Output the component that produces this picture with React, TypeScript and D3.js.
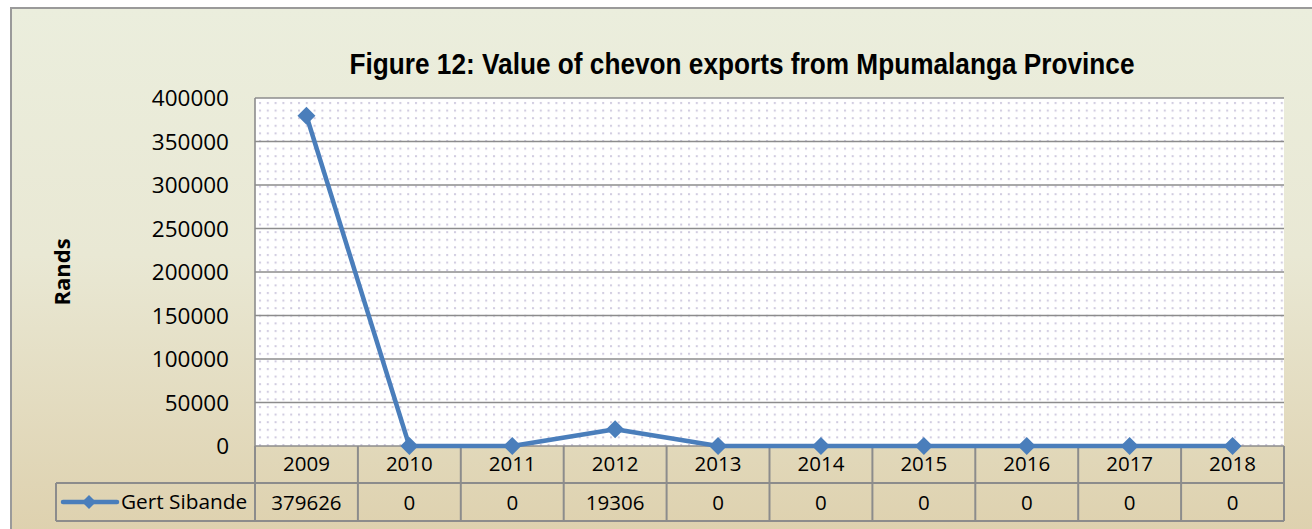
import React from "react";
import * as d3 from "d3";

const years = ["2009", "2010", "2011", "2012", "2013", "2014", "2015", "2016", "2017", "2018"];
const gertSibande = [379626, 0, 0, 19306, 0, 0, 0, 0, 0, 0];
const yTicks = [0, 50000, 100000, 150000, 200000, 250000, 300000, 350000, 400000];
const seriesName = "Gert Sibande";
const titleText = "Figure 12: Value of chevon exports from Mpumalanga Province";
const yAxisTitle = "Rands";

const W = 1312;
const H = 529;
const plotL = 255;
const plotR = 1284;
const plotT = 98;
const plotB = 446;
const row1B = 483;
const row2B = 521;
const legendL = 56;

const BLUE = "#4a7ebb";
const GRID = "#8c8c8c";
const BODY_FONT = "'Open Sans', 'Noto Sans', sans-serif";

export default function App() {
  const x = d3.scaleBand<string>().domain(years).range([plotL, plotR]).paddingInner(0).paddingOuter(0);
  const y = d3.scaleLinear().domain([0, 400000]).range([plotB, plotT]);
  const cx = (yr: string) => (x(yr) as number) + x.bandwidth() / 2;

  const line = d3
    .line<number>()
    .x((_, i) => cx(years[i]))
    .y((d) => y(d));

  const diamond = (px: number, py: number, r = 9) =>
    `M${px},${py - r}L${px + r},${py}L${px},${py + r}L${px - r},${py}Z`;

  const legendLineY = (row1B + row2B) / 2;

  return (
    <svg
      width={W}
      height={H}
      style={{ position: "absolute", left: 0, top: 0, display: "block" }}
      xmlns="http://www.w3.org/2000/svg"
    >
      <defs>
        <linearGradient id="bg" x1="0" y1="0" x2="0" y2="1">
          <stop offset="0%" stopColor="#ebeedd" />
          <stop offset="45%" stopColor="#e9e8d4" />
          <stop offset="100%" stopColor="#ddcfab" />
        </linearGradient>
        <pattern id="dots" x={plotL + 3} y={plotT + 3} width={7.8} height={7.6} patternUnits="userSpaceOnUse">
          <rect x={0} y={0} width={7.8} height={7.6} fill="#ffffff" />
          <rect x={1} y={1} width={2} height={2} fill="#d0cbe0" />
        </pattern>
      </defs>

      <rect x={0} y={0} width={W} height={H} fill="#ffffff" />
      <rect x={11} y={8} width={W + 20} height={H + 20} fill="url(#bg)" stroke="#9a9a9a" strokeWidth={2} />

      {/* Title */}
      <text
        x={742}
        y={74}
        textAnchor="middle"
        fontFamily="'Liberation Sans Narrow', 'Arial Narrow', 'Liberation Sans', sans-serif"
        fontWeight="bold"
        fontSize={29}
        textLength={785}
        lengthAdjust="spacingAndGlyphs"
        fill="#000"
      >
        {titleText}
      </text>

      {/* Plot area */}
      <rect x={plotL} y={plotT} width={plotR - plotL} height={plotB - plotT} fill="url(#dots)" />
      {yTicks.map((t) => (
        <line key={t} x1={plotL} x2={plotR} y1={y(t)} y2={y(t)} stroke={GRID} strokeWidth={1.6} />
      ))}
      <line x1={plotL} x2={plotL} y1={plotT} y2={plotB} stroke={GRID} strokeWidth={1.6} />

      {/* Y tick labels */}
      {yTicks.map((t) => (
        <text
          key={"l" + t}
          x={229}
          y={y(t)}
          dy="0.36em"
          textAnchor="end"
          fontFamily={BODY_FONT}
          fontSize={22.5}
          fill="#000"
        >
          {t}
        </text>
      ))}

      {/* Y axis title */}
      <text
        transform={`translate(70,272) rotate(-90)`}
        textAnchor="middle"
        fontFamily={BODY_FONT}
        fontWeight="bold"
        fontSize={22}
        fill="#000"
      >
        {yAxisTitle}
      </text>

      {/* Data table */}
      <g stroke={GRID} strokeWidth={2} fill="none">
        <line x1={legendL} x2={plotR} y1={row1B} y2={row1B} />
        <line x1={legendL} x2={plotR} y1={row2B} y2={row2B} />
        <line x1={legendL} x2={legendL} y1={row1B} y2={row2B} />
        {years.map((yr) => (
          <line key={"v" + yr} x1={x(yr) as number} x2={x(yr) as number} y1={plotB} y2={row2B} />
        ))}
        <line x1={plotR} x2={plotR} y1={plotB} y2={row2B} />
      </g>
      {years.map((yr) => (
        <text
          key={"h" + yr}
          x={cx(yr)}
          y={(plotB + row1B) / 2 - 0.5}
          dy="0.36em"
          textAnchor="middle"
          fontFamily={BODY_FONT}
          fontSize={20.5}
          fill="#000"
        >
          {yr}
        </text>
      ))}
      {gertSibande.map((v, i) => (
        <text
          key={"d" + i}
          x={cx(years[i])}
          y={legendLineY + 0.5}
          dy="0.36em"
          textAnchor="middle"
          fontFamily={BODY_FONT}
          fontSize={20.5}
          fill="#000"
        >
          {v}
        </text>
      ))}

      {/* Legend key in table */}
      <line x1={63} x2={117} y1={legendLineY} y2={legendLineY} stroke={BLUE} strokeWidth={4.5} strokeLinecap="round" />
      <path d={diamond(89, legendLineY, 7)} fill={BLUE} />
      <text
        x={121}
        y={legendLineY}
        dy="0.36em"
        fontFamily={BODY_FONT}
        fontSize={20.8}
        fill="#000"
      >
        {seriesName}
      </text>

      {/* Series */}
      <path d={line(gertSibande) as string} fill="none" stroke={BLUE} strokeWidth={4.5} strokeLinejoin="round" />
      {gertSibande.map((v, i) => (
        <path key={"m" + i} d={diamond(cx(years[i]), y(v))} fill={BLUE} />
      ))}
    </svg>
  );
}
